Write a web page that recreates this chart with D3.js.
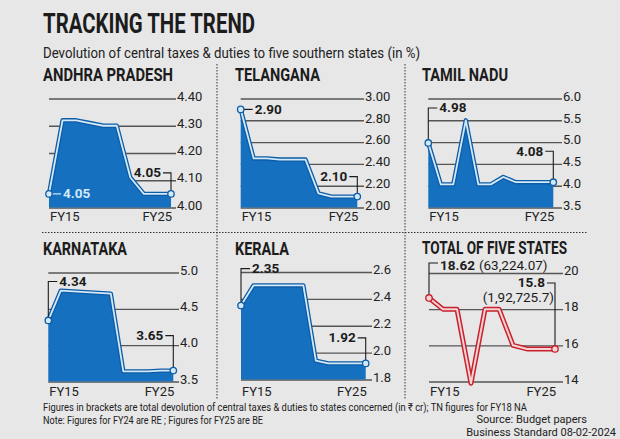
<!DOCTYPE html>
<html><head><meta charset="utf-8">
<script src="https://cdn.jsdelivr.net/npm/d3@7"></script>
<style>
body{margin:0;background:#e7e7e7;}
svg{display:block;}
text{font-family:Roboto,"Noto Sans","DejaVu Sans",sans-serif;}
</style></head><body>
<svg id="c" width="620" height="439"></svg>
<script>
// ---------------- DATA ----------------
const xLabels = ["FY15","FY25"];
const apValues    = [4.05,4.32,4.32,4.31,4.30,4.30,4.11,4.05,4.05,4.05];
const tgValues    = [2.90,2.45,2.45,2.44,2.44,2.44,2.13,2.10,2.10,2.10];
const tnValues    = [4.98,4.03,4.03,5.50,4.03,4.03,4.20,4.08,4.08,4.08,4.08];
const kaValues    = [4.34,4.75,4.74,4.73,4.72,4.71,3.64,3.64,3.64,3.65,3.65];
const klValues    = [2.35,2.50,2.50,2.50,2.50,2.50,1.94,1.92,1.92,1.92,1.92];
const totalValues = [18.62,18.0,18.0,13.9,18.0,18.0,16.0,15.8,15.8,15.8];
const apTicks    = [4.0,4.1,4.2,4.3,4.4];
const tgTicks    = [2.0,2.2,2.4,2.6,2.8,3.0];
const tnTicks    = [3.5,4.0,4.5,5.0,5.5,6.0];
const kaTicks    = [3.5,4.0,4.5,5.0];
const klTicks    = [1.8,2.0,2.2,2.4,2.6];
const totalTicks = [14,16,18,20];
const totalFirstAmount = "(63,224.07)";
const totalLastAmount  = "(1,92,725.7)";
const panelTitles = ["ANDHRA PRADESH","TELANGANA","TAMIL NADU","KARNATAKA","KERALA","TOTAL OF FIVE STATES"];

// ---------------- DRAW ----------------
const svg = d3.select("#c");
const BLUE="#1570c0", BLUE_D="#0d5ca6", LIGHT="#d3e9f8", RED="#c9202c", PINK="#f3d3d3", INK="#1c1c1c";

svg.append("text").attr("x",43).attr("y",33).text("TRACKING THE TREND")
  .attr("font-size",28).attr("font-weight",700).attr("fill",INK)
  .attr("textLength",212).attr("lengthAdjust","spacingAndGlyphs");
svg.append("text").attr("x",43).attr("y",58).text("Devolution of central taxes & duties to five southern states (in %)")
  .attr("font-size",14).attr("fill","#222")
  .attr("textLength",377).attr("lengthAdjust","spacingAndGlyphs");

// dividers
const dv = svg.append("g").attr("stroke","#333").attr("stroke-width",1).attr("stroke-dasharray","1.5,1.5");
dv.append("line").attr("x1",217).attr("x2",217).attr("y1",64).attr("y2",400);
dv.append("line").attr("x1",405).attr("x2",405).attr("y1",64).attr("y2",400);
dv.append("line").attr("x1",42).attr("x2",587).attr("y1",232.5).attr("y2",232.5);

function panel(c){
  const g = svg.append("g");
  const n = c.values.length;
  const x = d3.scaleLinear().domain([0,n-1]).range([c.x0,c.x1]);
  const y = d3.scaleLinear().domain(d3.extent(c.ticks)).range([c.yBot,c.yTop]);

  g.append("text").attr("x",c.tx).attr("y",c.ty).text(c.title)
    .attr("font-size",18).attr("font-weight",700).attr("fill",INK)
    .attr("textLength",c.tw).attr("lengthAdjust","spacingAndGlyphs");

  const ax = d3.axisRight(y).tickValues(c.ticks).tickFormat(d3.format(c.fmt))
    .tickSize(c.labelX - c.x0 - 1).tickPadding(1);
  const axg = g.append("g").attr("transform",`translate(${c.x0},0)`).call(ax);
  axg.select(".domain").remove();
  axg.selectAll("line").attr("stroke","#565656").attr("stroke-width",1.4);
  axg.selectAll("text").attr("font-size",13).attr("fill","#222").attr("dy","0.13em");

  const outer = c.red ? RED : BLUE_D, inner = c.red ? PINK : LIGHT;
  if(!c.red){
    const area = d3.area().x((d,i)=>x(i)).y0(c.yBot).y1(d=>y(d));
    g.append("path").datum(c.values).attr("d",area).attr("fill",BLUE);
  }
  const line = d3.line().x((d,i)=>x(i)).y(d=>y(d));
  g.append("path").datum(c.values).attr("d",line).attr("fill","none")
    .attr("stroke",outer).attr("stroke-width",c.red?5:4.4).attr("stroke-linejoin","round");
  g.append("path").datum(c.values).attr("d",line).attr("fill","none")
    .attr("stroke",inner).attr("stroke-width",c.red?2:1.8).attr("stroke-linejoin","round");

  // x labels
  g.append("text").attr("x",c.x0+1).attr("y",c.fyY).text(xLabels[0]).attr("font-size",13).attr("fill","#222");
  g.append("text").attr("x",c.x1+1).attr("y",c.fyY).attr("text-anchor","end").text(xLabels[1]).attr("font-size",13).attr("fill","#222");

  // annotations
  const fmtV = c.annFmt;
  const px0=x(0), py0=y(c.values[0]), px1=x(n-1), py1=y(c.values[n-1]);
  const s = c.start;
  if(s.type==="inline"){
    g.append("line").attr("x1",px0).attr("x2",px0+12).attr("y1",py0).attr("y2",py0)
      .attr("stroke",s.light?LIGHT:INK).attr("stroke-width",1.2);
    g.append("text").attr("x",px0+14).attr("y",py0+4.5).text(fmtV(c.values[0]))
      .attr("font-size",13.5).attr("font-weight",700).attr("fill",s.light?LIGHT:INK);
  } else {
    g.append("path").attr("d",`M${px0},${py0}V${py0-s.h}H${px0+9}`).attr("fill","none")
      .attr("stroke",INK).attr("stroke-width",1.1);
    const t = g.append("text").attr("x",px0+11).attr("y",py0-s.h+(s.ty||4.5))
      .attr("font-size",13.5).attr("fill",INK);
    t.append("tspan").attr("font-weight",700).text(fmtV(c.values[0]));
    if(c.startExtra) t.append("tspan").attr("dx",4).attr("font-weight",400).text(c.startExtra);
  }
  const e = c.end;
  g.append("path").attr("d",`M${px1-8},${py1-e.h}H${px1}V${py1}`).attr("fill","none")
    .attr("stroke",INK).attr("stroke-width",1.1);
  g.append("text").attr("x",px1-10).attr("y",py1-e.h+4.5).attr("text-anchor","end")
    .attr("font-size",13.5).attr("font-weight",700).attr("fill",INK).text(fmtV(c.values[n-1]));
  if(c.endExtra) g.append("text").attr("x",px1-1).attr("y",py1-e.h+19).attr("text-anchor","end")
    .attr("font-size",13.5).attr("fill",INK).text(c.endExtra);

  g.selectAll("circle").data([0,n-1]).join("circle")
    .attr("cx",i=>x(i)).attr("cy",i=>y(c.values[i])).attr("r",3.2)
    .attr("fill",inner).attr("stroke",outer).attr("stroke-width",1.3);
}

const f2 = d3.format(".2f");
panel({title:panelTitles[0],tx:43,ty:81,tw:130,values:apValues,ticks:apTicks,fmt:".2f",
  x0:49,x1:171,yTop:98.5,yBot:207.5,labelX:177,fyY:221,annFmt:f2,
  start:{type:"inline",light:true},end:{h:21}});
panel({title:panelTitles[1],tx:235,ty:81,tw:85,values:tgValues,ticks:tgTicks,fmt:".2f",
  x0:240.7,x1:357.3,yTop:98.5,yBot:207.5,labelX:365,fyY:221,annFmt:f2,
  start:{type:"inline"},end:{h:20}});
panel({title:panelTitles[2],tx:422,ty:81,tw:86,values:tnValues,ticks:tnTicks,fmt:".1f",
  x0:428.3,x1:553.3,yTop:98.5,yBot:207.5,labelX:563,fyY:221,annFmt:f2,
  start:{type:"bracket",h:35},end:{h:31}});
panel({title:panelTitles[3],tx:43,ty:254.5,tw:84,values:kaValues,ticks:kaTicks,fmt:".1f",
  x0:48.3,x1:173.3,yTop:272.5,yBot:381.5,labelX:180,fyY:396,annFmt:f2,
  start:{type:"bracket",h:39},end:{h:35}});
panel({title:panelTitles[4],tx:235,ty:254.5,tw:54,values:klValues,ticks:klTicks,fmt:".1f",
  x0:241,x1:365.7,yTop:272,yBot:379.5,labelX:373,fyY:396,annFmt:f2,
  start:{type:"bracket",h:37},end:{h:25.5}});
panel({title:panelTitles[5],tx:422,ty:254,tw:145,values:totalValues,ticks:totalTicks,fmt:"d",red:true,
  x0:429,x1:555,yTop:273,yBot:381.5,labelX:564,fyY:396,annFmt:v=>String(+v.toFixed(2)),
  start:{type:"bracket",h:35,ty:7},end:{h:66},startExtra:totalFirstAmount,endExtra:totalLastAmount});

// footer
svg.append("text").attr("x",43).attr("y",411).attr("font-size",11).attr("fill","#222")
  .attr("textLength",484).attr("lengthAdjust","spacingAndGlyphs")
  .text("Figures in brackets are total devolution of central taxes & duties to states concerned (in ₹ cr); TN figures for FY18 NA");
svg.append("text").attr("x",43).attr("y",424).attr("font-size",11).attr("fill","#222")
  .attr("textLength",220).attr("lengthAdjust","spacingAndGlyphs")
  .text("Note: Figures for FY24 are RE ; Figures for FY25 are BE");
svg.append("text").attr("x",587).attr("y",423).attr("font-size",11).attr("fill","#222").attr("text-anchor","end")
  .text("Source: Budget papers");
svg.append("text").attr("x",616).attr("y",436).attr("font-size",11).attr("fill","#222").attr("text-anchor","end")
  .text("Business Standard 08-02-2024");
</script></body></html>
